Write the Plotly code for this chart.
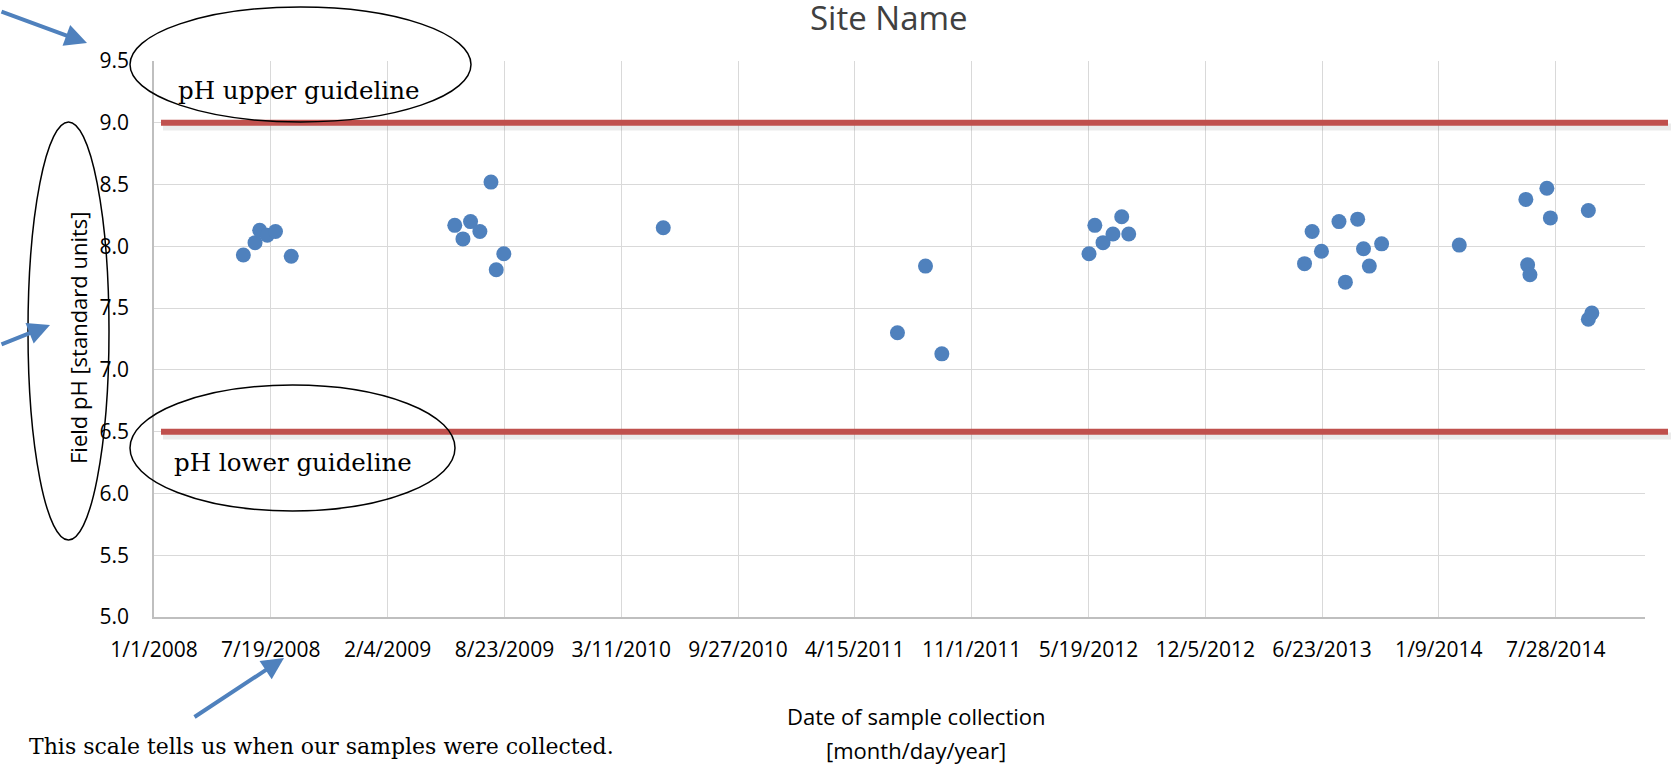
import plotly.graph_objects as go

# ---- data ----
sample_dates = [
    "2008-06-02", "2008-06-22", "2008-06-30", "2008-07-13", "2008-07-27", "2008-08-23",
    "2009-05-30", "2009-06-13", "2009-06-26", "2009-07-12", "2009-07-31", "2009-08-09", "2009-08-22",
    "2010-05-22",
    "2011-06-27", "2011-08-14", "2011-09-11",
    "2012-05-20", "2012-05-30", "2012-06-13", "2012-06-30", "2012-07-15", "2012-07-27",
    "2013-05-24", "2013-06-06", "2013-06-22", "2013-07-22", "2013-08-02", "2013-08-23",
    "2013-09-02", "2013-09-12", "2013-10-03",
    "2014-02-13",
    "2014-06-07", "2014-06-10", "2014-06-14", "2014-07-13", "2014-07-19",
    "2014-09-22", "2014-09-22", "2014-09-28",
]
field_ph = [
    7.93, 8.03, 8.13, 8.09, 8.12, 7.92,
    8.17, 8.06, 8.20, 8.12, 8.52, 7.81, 7.94,
    8.15,
    7.30, 7.84, 7.13,
    7.94, 8.17, 8.03, 8.10, 8.24, 8.10,
    7.86, 8.12, 7.96, 8.20, 7.71, 8.22,
    7.98, 7.84, 8.02,
    8.01,
    8.38, 7.85, 7.77, 8.47, 8.23,
    7.41, 8.29, 7.46,
]
tick_dates = [
    "2008-01-01", "2008-07-19", "2009-02-04", "2009-08-23", "2010-03-11", "2010-09-27",
    "2011-04-15", "2011-11-01", "2012-05-19", "2012-12-05", "2013-06-23", "2014-01-09",
    "2014-07-28",
]
tick_labels = [
    "1/1/2008", "7/19/2008", "2/4/2009", "8/23/2009", "3/11/2010", "9/27/2010",
    "4/15/2011", "11/1/2011", "5/19/2012", "12/5/2012", "6/23/2013", "1/9/2014",
    "7/28/2014",
]
y_ticks = [5.0, 5.5, 6.0, 6.5, 7.0, 7.5, 8.0, 8.5, 9.0, 9.5]
ph_upper = 9.0
ph_lower = 6.5
x_range = ["2008-01-01", "2014-12-28"]
y_range = [5.0, 9.5]

# ---- layout geometry (pixels) ----
W, H = 1680, 769
L, R, T, B = 154, 35, 61, 152
PW, PH = W - L - R, H - T - B


def px(x):
    return (x - L) / PW


def py(y):
    return (H - B - y) / PH


BLUE = "#4F81BD"
RED = "#C0504D"
SANS = "Open Sans"
SERIF = "DejaVu Serif"

fig = go.Figure()
fig.add_trace(go.Scatter(
    x=sample_dates, y=field_ph, mode="markers",
    marker=dict(color=BLUE, size=15, line=dict(width=0)),
    showlegend=False, hoverinfo="x+y",
))

shapes = []
# guideline lines (soft shadow + line)
for val in (ph_upper, ph_lower):
    shapes.append(dict(type="line", xref="paper", yref="y",
                       x0=px(163), x1=px(1671), y0=val - 0.035, y1=val - 0.035,
                       line=dict(color="rgba(0,0,0,0.08)", width=7), layer="above"))
    shapes.append(dict(type="line", xref="paper", yref="y",
                       x0=px(161), x1=px(1668), y0=val, y1=val,
                       line=dict(color=RED, width=6), layer="above"))
# ellipses
for (x0, y0, x1, y1) in [(130, 7, 471, 122), (130, 385, 455, 511), (28, 122, 109, 540)]:
    shapes.append(dict(type="circle", xref="paper", yref="paper",
                       x0=px(x0), x1=px(x1), y0=py(y1), y1=py(y0),
                       line=dict(color="black", width=1.5), fillcolor="rgba(0,0,0,0)",
                       layer="above"))

annotations = []
# title
annotations.append(dict(text="Site Name", xref="paper", yref="paper", x=px(889), y=py(17),
                        showarrow=False, font=dict(family=SANS, size=33, color="#404040"),
                        xanchor="center", yanchor="middle"))
# axis titles
annotations.append(dict(text="Field pH [standard units]", xref="paper", yref="paper",
                        x=px(78), y=py(338), textangle=-90, showarrow=False,
                        font=dict(family=SANS, size=22, color="black"),
                        xanchor="center", yanchor="middle"))
annotations.append(dict(text="Date of sample collection", xref="paper",
                        yref="paper", x=px(916), y=py(716), showarrow=False,
                        font=dict(family=SANS, size=22, color="black"),
                        xanchor="center", yanchor="middle"))
annotations.append(dict(text="[month/day/year]", xref="paper",
                        yref="paper", x=px(916), y=py(750), showarrow=False,
                        font=dict(family=SANS, size=22, color="black"),
                        xanchor="center", yanchor="middle"))
# guideline labels
annotations.append(dict(text="pH upper guideline", xref="paper", yref="paper",
                        x=px(298), y=py(90), showarrow=False,
                        font=dict(family=SERIF, size=24.5, color="black"),
                        xanchor="center", yanchor="middle"))
annotations.append(dict(text="pH lower guideline", xref="paper", yref="paper",
                        x=px(293), y=py(463), showarrow=False,
                        font=dict(family=SERIF, size=24.5, color="black"),
                        xanchor="center", yanchor="middle"))
annotations.append(dict(text="This scale tells us when our samples were collected.",
                        xref="paper", yref="paper", x=px(27), y=py(746), showarrow=False,
                        font=dict(family=SERIF, size=22, color="black"),
                        xanchor="left", yanchor="middle"))
# arrows (head position, tail offset in pixels)
for (hx, hy, tx, ty) in [(87, 43, 0, 11), (50, 325, 0, 345), (284, 658, 193, 718)]:
    annotations.append(dict(text="", xref="paper", yref="paper", x=px(hx), y=py(hy),
                            ax=tx - hx, ay=ty - hy, showarrow=True,
                            arrowcolor=BLUE, arrowwidth=4, arrowhead=2, arrowsize=1.1))

fig.update_layout(
    width=W, height=H,
    margin=dict(l=L, r=R, t=T, b=B, pad=0, autoexpand=False),
    paper_bgcolor="white", plot_bgcolor="white",
    font=dict(family=SANS, size=21, color="black"),
    shapes=shapes, annotations=annotations,
    showlegend=False,
)
fig.update_xaxes(
    type="date", range=x_range, tickvals=tick_dates, ticktext=tick_labels,
    showgrid=True, gridcolor="#D9D9D9", gridwidth=1.3,
    showline=True, linecolor="#BFBFBF", linewidth=1.5,
    ticks="outside", ticklen=13, tickcolor="rgba(0,0,0,0)",
    tickfont=dict(family=SANS, size=21, color="black"),
    zeroline=False, fixedrange=True,
)
fig.update_yaxes(
    range=y_range, tickvals=y_ticks, ticktext=[f"{v:.1f}" for v in y_ticks],
    showgrid=True, gridcolor="#D9D9D9", gridwidth=1.3,
    showline=True, linecolor="#BFBFBF", linewidth=1.5,
    ticks="outside", ticklen=19, tickcolor="rgba(0,0,0,0)",
    tickfont=dict(family=SANS, size=21, color="black"),
    zeroline=False, fixedrange=True,
)

fig.write_html("out.html", config={"displayModeBar": False},
               post_script="document.body.style.margin='0';document.body.style.overflow='hidden';")
